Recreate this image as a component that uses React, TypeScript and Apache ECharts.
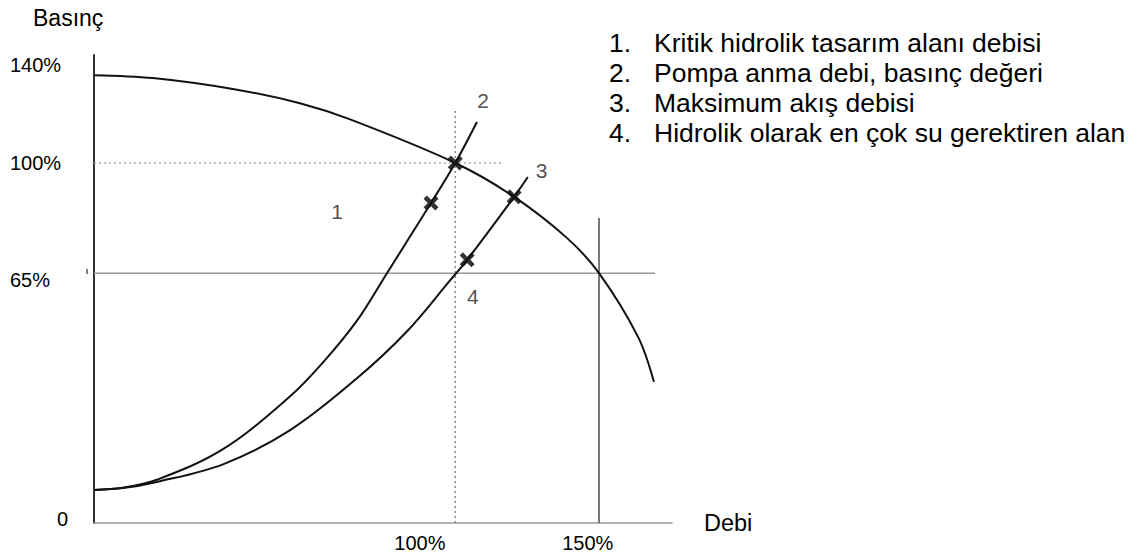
import React, { useEffect, useRef } from "react";
import * as echarts from "echarts";

// Pump characteristic curve (flow %, pressure units of the diagram)
const pumpCurve: number[][] = [
  [0, 124.4], [16.3, 123.6], [38.8, 120.5], [57, 116.6], [70.9, 112.1],
  [100, 100], [116, 90.8], [130.9, 79.2], [139.8, 69.4], [150.6, 51.7], [155, 39.2],
];
// System curve through point 2 (steeper)
const systemCurveA: number[][] = [
  [0, 9.2], [8, 9.8], [17.4, 12.0], [35.7, 20.5], [54.3, 35.2],
  [63.4, 44.6], [72.8, 56.2], [81.1, 69.4], [93.3, 88.9], [100, 100], [106, 111.4],
];
// System curve through point 3 (flatter)
const systemCurveB: number[][] = [
  [0, 9.2], [8, 9.7], [17.4, 11.4], [35.7, 16.3], [54.3, 25.8], [72.8, 40.2],
  [86.6, 53.2], [98.5, 67.3], [103.3, 73.1], [116.3, 90.6], [120.1, 96.1],
];
// Reference lines
const rated100H: number[][] = [[0, 100], [113.2, 100]];
const rated100V: number[][] = [[100, 0], [100, 114.7]];
const line65: number[][] = [[0, 69.4], [155.3, 69.4]];
const line150: number[][] = [[139.8, 0], [139.8, 84.7]];
// Cross marks
const crossPoints: number[][] = [[100, 100], [93.3, 88.9], [116.3, 90.6], [103.3, 73.1]];
// Numbered annotations on the diagram
const curveLabelNames = ["1", "2", "3", "4"];
const curveLabelPos: number[][] = [[67.3, 86.4], [107.7, 117.5], [123.9, 97.8], [104.9, 62.8]];
// Tick labels
const yTickValues = [1, 67.5, 100, 127.2];
const yTickLabels = ["0", "65%", "100%", "140%"];
const xTickValues = [90.2, 136.7];
const xTickLabels = ["100%", "150%"];
// Legend texts
const legendNumbers = ["1.", "2.", "3.", "4."];
const legendTexts = [
  "Kritik hidrolik tasarım alanı debisi",
  "Pompa anma debi, basınç değeri",
  "Maksimum akış debisi",
  "Hidrolik olarak en çok su gerektiren alan",
];

const FONT = "'Liberation Sans', Arial, Helvetica, sans-serif";

export default function App() {
  const ref = useRef<HTMLDivElement>(null);
  useEffect(() => {
    if (!ref.current) return;
    const chart = echarts.init(ref.current, undefined, { renderer: "svg" });
    const crossPath =
      "path://M0,3 L3,0 L7,4 L11,0 L14,3 L10,7 L14,11 L11,14 L7,10 L3,14 L0,11 L4,7 Z";
    const legendGraphics: any[] = [];
    legendTexts.forEach((t, i) => {
      const y = 43 + i * 30;
      legendGraphics.push({
        type: "text", x: 609, y,
        style: { text: legendNumbers[i], fontSize: 26.5, fontFamily: FONT, fill: "#000", verticalAlign: "middle" },
      });
      legendGraphics.push({
        type: "text", x: 654, y,
        style: { text: t, fontSize: 26.5, fontFamily: FONT, fill: "#000", verticalAlign: "middle" },
      });
    });
    const lineSeries = (data: number[][], color: string, width: number, type: any, smooth: any = false) => ({
      type: "line", data, showSymbol: false, smooth, silent: true,
      lineStyle: { color, width, type },
    });
    chart.setOption({
      animation: false,
      backgroundColor: "#fff",
      textStyle: { fontFamily: FONT },
      grid: { left: 94, right: 471, top: 55, bottom: 34 },
      xAxis: {
        type: "value", min: 0, max: 160,
        name: "Debi", nameLocation: "end", nameGap: 32,
        nameTextStyle: { fontSize: 23.5, color: "#000", fontFamily: FONT, verticalAlign: "middle" },
        axisLine: { show: true, lineStyle: { color: "#999", width: 1.5 } },
        axisTick: { show: false },
        splitLine: { show: false },
        axisLabel: {
          customValues: xTickValues, margin: 10, fontSize: 20, color: "#000", fontFamily: FONT,
          formatter: (v: number) => xTickLabels[xTickValues.indexOf(v)] ?? "",
        },
      },
      yAxis: {
        type: "value", min: 0, max: 130,
        axisLine: { show: true, lineStyle: { color: "#333", width: 2 } },
        axisTick: { show: false },
        splitLine: { show: false },
        axisLabel: {
          customValues: yTickValues, margin: 84, align: "left", fontSize: 20, color: "#000", fontFamily: FONT,
          formatter: (v: number) => {
            const i = yTickValues.indexOf(v);
            if (i === 0) return "{z|" + yTickLabels[i] + "}";
            return yTickLabels[i] ?? "";
          },
          rich: { z: { padding: [0, 0, 0, 47], fontSize: 20, fontFamily: FONT, color: "#000" } },
        },
      },
      graphic: [
        { type: "text", x: 33, y: 18, style: { text: "Basınç", fontSize: 23, fontFamily: FONT, fill: "#000", verticalAlign: "middle" } },
        { type: "line", shape: { x1: 87, y1: 269, x2: 87, y2: 274 }, style: { stroke: "#555", lineWidth: 1.5 } },
        ...legendGraphics,
      ],
      series: [
        lineSeries(rated100H, "#aaa", 1.5, [2, 3]),
        lineSeries(rated100V, "#888", 1.5, [2, 3]),
        lineSeries(line65, "#999", 1.5, "solid"),
        lineSeries(line150, "#777", 2, "solid"),
        lineSeries(pumpCurve, "#111", 2, "solid", 0.35),
        lineSeries(systemCurveA, "#111", 2, "solid", 0.35),
        lineSeries(systemCurveB, "#111", 2, "solid", 0.35),
        {
          type: "scatter", data: crossPoints, symbol: crossPath, symbolSize: 15, silent: true,
          itemStyle: { color: "#000" },
        },
        {
          type: "scatter", silent: true, symbolSize: 0,
          data: curveLabelPos.map((p, i) => ({ value: p, name: curveLabelNames[i] })),
          label: {
            show: true, position: "inside", formatter: "{b}", fontSize: 21,
            color: "#222", fontFamily: FONT,
          },
        },
      ],
    });
    return () => chart.dispose();
  }, []);
  return (
    <div
      ref={ref}
      style={{ position: "absolute", left: 0, top: 0, width: 1143, height: 557, background: "#fff" }}
    />
  );
}
